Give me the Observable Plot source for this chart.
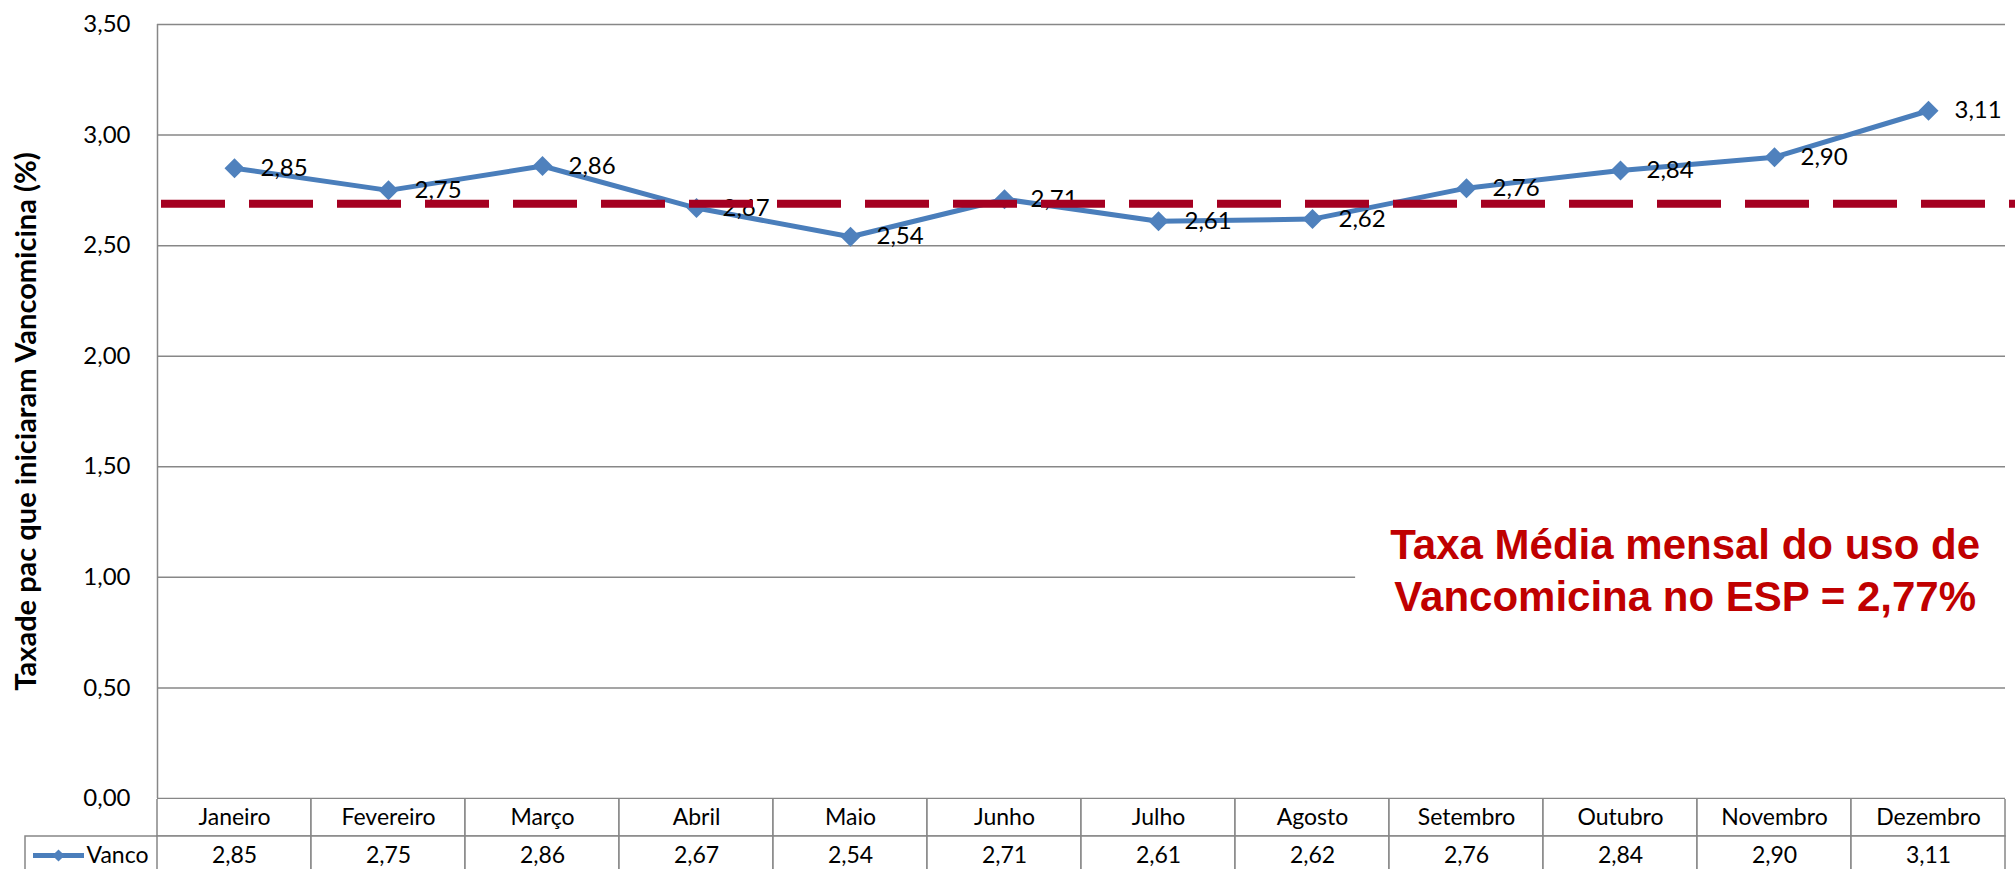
<!DOCTYPE html>
<html>
<head>
<meta charset="utf-8">
<script src="https://cdn.jsdelivr.net/npm/d3@7"></script>
<script src="https://cdn.jsdelivr.net/npm/@observablehq/plot@0.6"></script>
<style>
  html, body { margin: 0; padding: 0; background: #ffffff; }
  #chart svg { display: block; }
</style>
</head>
<body>
<div id="chart"></div>
<script>
// ---- data ----
const months = ["Janeiro", "Fevereiro", "Março", "Abril", "Maio", "Junho", "Julho", "Agosto", "Setembro", "Outubro", "Novembro", "Dezembro"];
const vanco = [2.85, 2.75, 2.86, 2.67, 2.54, 2.71, 2.61, 2.62, 2.76, 2.84, 2.90, 3.11];
const seriesName = "Vanco";
const yTicks = [0, 0.5, 1, 1.5, 2, 2.5, 3, 3.5];
const avgLine = 2.69;
const yTitle = "Taxade pac que iniciaram Vancomicina (%)";
const noteText = "Taxa Média mensal do uso de\nVancomicina no ESP = 2,77%";

// ---- layout / style ----
const W = 2015;
const M = {left: 157, right: 10, top: 24};
const GRID = "#878787";
const BLUE = "#4A7EBB";
const BLUE_FILL = "#4F81BD";
const RED = "#A50021";
const NOTE_RED = "#C00000";
const FONT = "Lato, 'Open Sans', sans-serif";
const noteBox = {x1: 7.28, x2: 11.5, y1: 0.78, y2: 1.3};
const notePos = {x: 9.42, y: 1.04, text: noteText};

const fmt = v => v.toFixed(2).replace(".", ",");
const data = months.map((m, i) => ({i, month: m, value: vanco[i]}));
const bandPx = (W - M.left - M.right) / months.length;
const xEnd = months.length - 0.5 + M.right / bandPx;

const chart = Plot.plot({
  width: W,
  height: 799,
  marginLeft: M.left,
  marginRight: M.right,
  marginTop: M.top,
  marginBottom: 1,
  style: {fontFamily: FONT, fontSize: "24px", color: "#000", background: "#fff", overflow: "visible"},
  x: {domain: [-0.5, months.length - 0.5], axis: null},
  y: {domain: [0, 3.5], ticks: yTicks, tickFormat: fmt, tickSize: 0, tickPadding: 27, label: null},
  marks: [
    Plot.ruleY(yTicks, {stroke: GRID, strokeWidth: 1.5}),
    Plot.ruleX([-0.5], {stroke: GRID, strokeWidth: 1.5}),
    Plot.rect([noteBox], {x1: "x1", x2: "x2", y1: "y1", y2: "y2", fill: "#fff"}),
    Plot.text([notePos], {x: "x", y: "y", text: "text", fill: NOTE_RED, fontFamily: "'Liberation Sans', Arial, sans-serif",
      fontWeight: "bold", fontSize: 42, lineHeight: 1.24, textAnchor: "middle"}),
    Plot.text([yTitle], {frameAnchor: "left", textAnchor: "middle", dx: -131, dy: 10, rotate: -90, fontWeight: "bold", fontSize: 29}),
    Plot.line(data, {x: "i", y: "value", stroke: BLUE, strokeWidth: 5}),
    Plot.dot(data, {x: "i", y: "value", symbol: "diamond2", r: 9, fill: BLUE_FILL}),
    Plot.text(data, {x: "i", y: "value", text: d => fmt(d.value), textAnchor: "start", dx: 26, fill: "#000"}),
    Plot.ruleY([avgLine], {x1: -0.5, x2: xEnd, dx: 4, stroke: RED, strokeWidth: 8, strokeDasharray: "64,24"})
  ]
});

const cells = [
  ...months.map(m => ({month: m, row: "mes", label: m})),
  ...data.map(d => ({month: d.month, row: "vanco", label: fmt(d.value)}))
];

const legendLine = {
  draw(context) {
    context.moveTo(-25.5, 0);
    context.lineTo(25.5, 0);
  }
};

const TABLE_H = 70;
const rowRange = [-1, 75];
const table = Plot.plot({
  width: W,
  height: TABLE_H,
  marginLeft: M.left,
  marginRight: M.right,
  marginTop: 0,
  marginBottom: 0,
  style: {fontFamily: FONT, fontSize: "23px", color: "#000", background: "#fff"},
  x: {type: "band", domain: months, padding: 0, axis: null},
  y: {type: "band", domain: ["mes", "vanco"], range: rowRange, padding: 0, axis: null},
  marks: [
    Plot.cell(cells, {x: "month", y: "row", stroke: GRID, strokeWidth: 1.5, fill: "#fff"}),
    Plot.text(cells, {x: "month", y: "row", text: "label", fill: "#000"}),
    Plot.text([seriesName], {y: () => "vanco", frameAnchor: "left", dx: -9, textAnchor: "end", fill: "#000"}),
    Plot.dot([seriesName], {y: () => "vanco", frameAnchor: "left", dx: -99, symbol: legendLine, r: 5, fill: "none", stroke: BLUE, strokeWidth: 5}),
    Plot.dot([seriesName], {y: () => "vanco", frameAnchor: "left", dx: -99, symbol: "diamond2", r: 5.5, fill: BLUE_FILL})
  ]
});

// legend cell border (left of the data table)
const rowTop = (rowRange[0] + rowRange[1]) / 2;
d3.select(table).append("path")
  .attr("d", `M25,${TABLE_H + 2}V${rowTop}H${M.left}`)
  .attr("fill", "none")
  .attr("stroke", GRID)
  .attr("stroke-width", 1.5);

const root = document.getElementById("chart");
root.appendChild(chart);
root.appendChild(table);
</script>
</body>
</html>
